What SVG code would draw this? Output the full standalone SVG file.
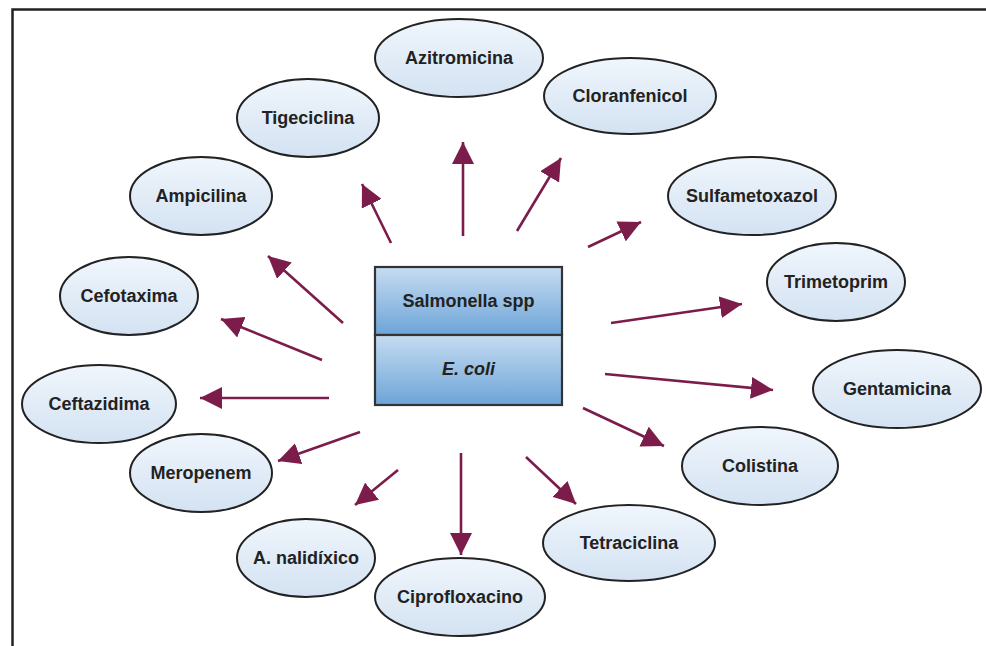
<svg xmlns="http://www.w3.org/2000/svg" width="986" height="646" viewBox="0 0 986 646">
<style>
.node ellipse{fill:url(#eg);stroke:#222;stroke-width:2}
.lbl{font-family:"Liberation Sans",Arial,sans-serif;font-size:18px;font-weight:bold;fill:#222;text-anchor:middle;dominant-baseline:central}
.cell{fill:url(#bg);stroke:#333;stroke-width:2.2}
#connectors line{stroke:#7b1c4b;stroke-width:2.6;marker-end:url(#ah)}
</style>
<defs>
<linearGradient id="eg" x1="0" y1="0" x2="0" y2="1"><stop offset="0" stop-color="#f0f6fc"/><stop offset="1" stop-color="#d3e2f2"/></linearGradient>
<linearGradient id="bg" x1="0" y1="0" x2="0" y2="1"><stop offset="0" stop-color="#c6dcf1"/><stop offset="1" stop-color="#6da4d8"/></linearGradient>
<marker id="ah" markerUnits="userSpaceOnUse" markerWidth="22" markerHeight="22" viewBox="0 0 20 20" refX="20" refY="10" orient="auto"><path d="M0,0 L20,10 L0,20 z" fill="#7b1c4b"/></marker>
</defs>
<rect width="986" height="646" fill="#fff"/>
<path d="M12.5,646 V9.5 H986" fill="none" stroke="#222" stroke-width="2.5"/>
<g id="connectors">
<line x1="463" y1="236" x2="463" y2="142"/>
<line x1="517" y1="231" x2="561" y2="158"/>
<line x1="391" y1="243" x2="362" y2="184"/>
<line x1="343" y1="323" x2="268" y2="256"/>
<line x1="322" y1="360" x2="221" y2="319"/>
<line x1="329" y1="398" x2="200" y2="398"/>
<line x1="360" y1="432" x2="278" y2="461"/>
<line x1="398" y1="470" x2="355" y2="505"/>
<line x1="461" y1="453" x2="461" y2="555"/>
<line x1="526" y1="457" x2="576" y2="504"/>
<line x1="583" y1="408" x2="664" y2="446"/>
<line x1="605" y1="374" x2="773" y2="390"/>
<line x1="611" y1="323" x2="742" y2="304"/>
<line x1="588" y1="247" x2="641" y2="222"/>
</g>
<g id="center">
<rect class="cell" x="375" y="267" width="187" height="68"/>
<rect class="cell" x="375" y="335" width="187" height="70"/>
<text class="lbl" x="468.5" y="301">Salmonella spp</text>
<text class="lbl" x="468.5" y="369" style="font-style:italic">E. coli</text>
</g>
<g id="azitromicina" class="node"><ellipse cx="459" cy="58" rx="84" ry="39"/><text class="lbl" x="459" y="58">Azitromicina</text></g>
<g id="cloranfenicol" class="node"><ellipse cx="630" cy="96" rx="86" ry="38"/><text class="lbl" x="630" y="96">Cloranfenicol</text></g>
<g id="tigeciclina" class="node"><ellipse cx="308" cy="118" rx="71" ry="39"/><text class="lbl" x="308" y="118">Tigeciclina</text></g>
<g id="ampicilina" class="node"><ellipse cx="201" cy="196" rx="71" ry="39"/><text class="lbl" x="201" y="196">Ampicilina</text></g>
<g id="sulfametoxazol" class="node"><ellipse cx="752" cy="196" rx="84" ry="39"/><text class="lbl" x="752" y="196">Sulfametoxazol</text></g>
<g id="cefotaxima" class="node"><ellipse cx="129" cy="296" rx="69" ry="39"/><text class="lbl" x="129" y="296">Cefotaxima</text></g>
<g id="trimetoprim" class="node"><ellipse cx="836" cy="282" rx="69" ry="39"/><text class="lbl" x="836" y="282">Trimetoprim</text></g>
<g id="ceftazidima" class="node"><ellipse cx="99" cy="404" rx="77" ry="39"/><text class="lbl" x="99" y="404">Ceftazidima</text></g>
<g id="gentamicina" class="node"><ellipse cx="897" cy="389" rx="84" ry="39"/><text class="lbl" x="897" y="389">Gentamicina</text></g>
<g id="meropenem" class="node"><ellipse cx="201" cy="473" rx="71" ry="39"/><text class="lbl" x="201" y="473">Meropenem</text></g>
<g id="colistina" class="node"><ellipse cx="760" cy="466" rx="78" ry="39"/><text class="lbl" x="760" y="466">Colistina</text></g>
<g id="nalidixico" class="node"><ellipse cx="306" cy="558" rx="69" ry="39"/><text class="lbl" x="306" y="558">A. nalidíxico</text></g>
<g id="tetraciclina" class="node"><ellipse cx="629" cy="543" rx="86" ry="38"/><text class="lbl" x="629" y="543">Tetraciclina</text></g>
<g id="ciprofloxacino" class="node"><ellipse cx="460" cy="597" rx="85" ry="39"/><text class="lbl" x="460" y="597">Ciprofloxacino</text></g>
</svg>
